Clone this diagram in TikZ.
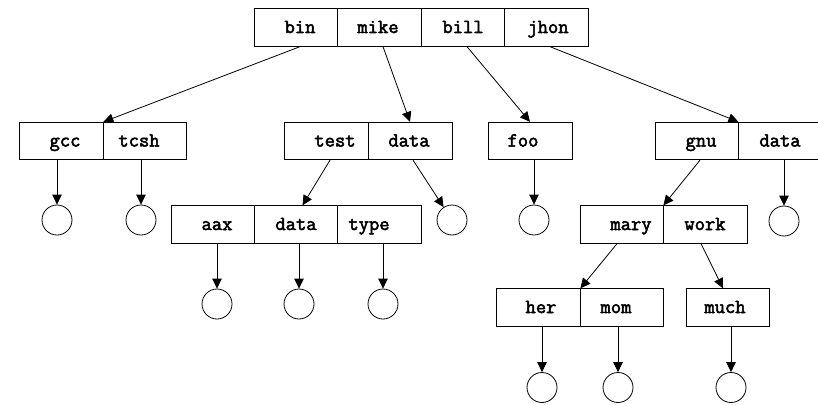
\documentclass[tikz,border=0pt]{standalone}
\usepackage{fontspec}
\setmonofont{Latin Modern Mono}[BoldFont={Latin Modern Mono}, BoldFeatures={FakeBold=2.5}]
\usetikzlibrary{arrows.meta}
\newcommand\sh[2]{\hspace*{#1pt}#2\hspace*{-#1pt}}
\begin{document}
\begin{tikzpicture}[x=1pt,y=-1pt,
  cell/.style={draw, line width=0.8pt, minimum height=37.5pt, inner sep=0pt,
    text height=13pt, text depth=2pt,
    font=\ttfamily\bfseries\fontsize{20}{24}\selectfont},
  leaf/.style={draw, circle, minimum size=30pt, inner sep=0pt, line width=0.8pt},
  link/.style={-{Triangle[length=10pt,width=9.5pt]}, line width=0.8pt}]
\useasboundingbox (0,0) rectangle (818,404);
\fill[white] (0,0) rectangle (818,404);
% top row
\node[cell, minimum width=83pt] (bin)  at (295.5,27.5) {\sh{4.5}{bin}};
\node[cell, minimum width=84pt] (mike) at (379,27.5)   {\sh{-1}{mike}};
\node[cell, minimum width=83pt] (bill) at (462.5,27.5) {\sh{0.5}{bill}};
\node[cell, minimum width=84pt] (jhon) at (546,27.5)   {\sh{2}{jhon}};
% second row
\node[cell, minimum width=84pt] (gcc)   at (61,141)    {\sh{4}{gcc}};
\node[cell, minimum width=83pt] (tcsh)  at (144.5,141) {\sh{-5.5}{tcsh}};
\node[cell, minimum width=84pt] (test)  at (326,141)   {\sh{9}{test}};
\node[cell, minimum width=84pt] (dataA) at (410,141)   {\sh{-1}{data}};
\node[cell, minimum width=84pt] (foo)   at (530,141)   {\sh{-7}{foo}};
\node[cell, minimum width=83pt] (gnu)   at (696.5,141) {\sh{4.5}{gnu}};
\node[cell, minimum width=83pt] (dataB) at (779.5,141) {\sh{0.5}{data}};
% third row
\node[cell, minimum width=83pt] (aax)   at (212.5,224.5) {\sh{4.5}{aax}};
\node[cell, minimum width=83pt] (dataC) at (295.5,224.5) {\sh{0.5}{data}};
\node[cell, minimum width=84pt] (type)  at (379,224.5)   {\sh{-10}{type}};
\node[cell, minimum width=83pt] (mary)  at (621.5,224.5) {\sh{9.5}{mary}};
\node[cell, minimum width=84pt] (work)  at (705,224.5)   {\sh{0}{work}};
% fourth row
\node[cell, minimum width=84pt] (her)  at (538,307.5)   {\sh{3}{her}};
\node[cell, minimum width=83pt] (mom)  at (621.5,307.5) {\sh{-5.5}{mom}};
\node[cell, minimum width=83pt] (much) at (727.5,307.5) {\sh{-2.5}{much}};
% leaves
\node[leaf] (lgcc)   at (57,220)  {};
\node[leaf] (ltcsh)  at (141,220) {};
\node[leaf] (ldataA) at (452,220) {};
\node[leaf] (lfoo)   at (534,220) {};
\node[leaf] (ldataB) at (784,221) {};
\node[leaf] (laax)   at (217,304) {};
\node[leaf] (ldataC) at (299,304) {};
\node[leaf] (ltype)  at (383,304) {};
\node[leaf] (lher)   at (542,387.5) {};
\node[leaf] (lmom)   at (618,387.5) {};
\node[leaf] (lmuch)  at (731,387.5) {};
% links between cells
\draw[link] ([xshift=4.5pt]bin.south) -- (gcc.north east);
\draw[link] ([xshift=4pt]mike.south) -- (dataA.north);
\draw[link] ([xshift=4.5pt]bill.south) -- (foo.north);
\draw[link] ([xshift=4pt]jhon.south) -- (gnu.north east);
\draw[link] ([xshift=4pt]test.south) -- ([xshift=7pt]dataC.north);
\draw[link] ([xshift=3.5pt]gnu.south) -- (mary.north east);
\draw[link] ([xshift=-4.5pt]mary.south) -- (her.north east);
\draw[link] ([xshift=-4pt]work.south) -- ([xshift=-4.5pt]much.north);
% links to leaves
\draw[link] (gcc.south -| lgcc) -- (lgcc.north);
\draw[link] (tcsh.south -| ltcsh) -- (ltcsh.north);
\draw[link] ([xshift=3pt]dataA.south) -- (ldataA);
\draw[link] (foo.south -| lfoo) -- (lfoo.north);
\draw[link] (dataB.south -| ldataB) -- (ldataB.north);
\draw[link] (aax.south -| laax) -- (laax.north);
\draw[link] (dataC.south -| ldataC) -- (ldataC.north);
\draw[link] (type.south -| ltype) -- (ltype.north);
\draw[link] (her.south -| lher) -- (lher.north);
\draw[link] (mom.south -| lmom) -- (lmom.north);
\draw[link] (much.south -| lmuch) -- (lmuch.north);
\end{tikzpicture}
\end{document}
